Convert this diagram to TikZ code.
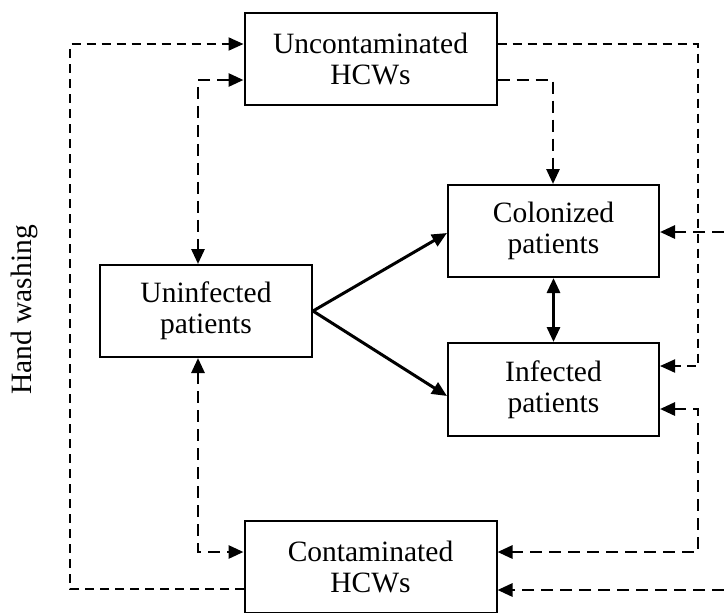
\documentclass[tikz,border=0pt]{standalone}
\usepackage{fontspec}
\setmainfont{Liberation Serif}
\usetikzlibrary{arrows.meta,calc}
\begin{document}
\begin{tikzpicture}[x=0.5pt,y=-0.5pt,
  >={Triangle[length=7.5pt,width=6.5pt]},
  box/.style={draw,line width=1pt,inner sep=0pt,align=center,
    font=\fontsize{14.75pt}{15.5pt}\selectfont},
  thind/.style={line width=1pt,dash pattern=on 4.5pt off 3pt},
  thkd/.style={line width=1.4pt,dash pattern=on 6pt off 3.5pt},
  solidarr/.style={line width=1.5pt,->}]
\clip (0,0) rectangle (724,612);
\node[box,minimum width=126pt,minimum height=46pt] (U) at (370.5,58.5) {Uncontaminated\\HCWs};
\node[box,minimum width=105.5pt,minimum height=46pt] (C) at (553.5,231) {Colonized\\patients};
\node[box,minimum width=105.5pt,minimum height=46.5pt] (I) at (553.5,389.5) {Infected\\patients};
\node[box,minimum width=106pt,minimum height=46pt] (N) at (206,311) {Uninfected\\patients};
\node[box,minimum width=126pt,minimum height=46pt] (K) at (370.5,567) {Contaminated\\HCWs};
\node[rotate=90,font=\fontsize{14.75pt}{15.5pt}\selectfont] (H) at (24,310) {Hand washing};

% corners
\coordinate (a1) at (70,589); \coordinate (a2) at (70,44);
\coordinate (b1) at (198,80); \coordinate (b2) at (198,552);
\coordinate (c1) at (698,44); \coordinate (c2) at (698,366);
\coordinate (d1) at (553,80);
\coordinate (e1) at (724,232);
\coordinate (f1) at (698,409); \coordinate (f2) at (698,552);
\coordinate (g1) at (724,590);

\draw[thind,->] (K.west |- a1) -- (a1) -- (a2) -- (U.west |- a2);
\draw[thkd,<->] (U.west |- b1) -- (b1) -- (N.north -| b1);
\draw[thkd,<->] (N.south -| b2) -- (b2) -- (K.west |- b2);
\draw[thind,->] (U.east |- c1) -- (c1) -- (c2) -- (I.east |- c2);
\draw[thkd,->] (U.east |- d1) -- (d1) -- (C.north -| d1);
\draw[thkd,->] (e1) -- (C.east |- e1);
\draw[thkd,<->] (I.east |- f1) -- (f1) -- (f2) -- (K.east |- f2);
\draw[thkd,->] (g1) -- (K.east |- g1);

\draw[solidarr] (N.east) -- ($(C.west)+(0,2)$);
\draw[solidarr] (N.east) -- ($(I.west)+(0,6.5)$);
\draw[solidarr,<->] (C.south) -- (I.north);
\end{tikzpicture}
\end{document}
